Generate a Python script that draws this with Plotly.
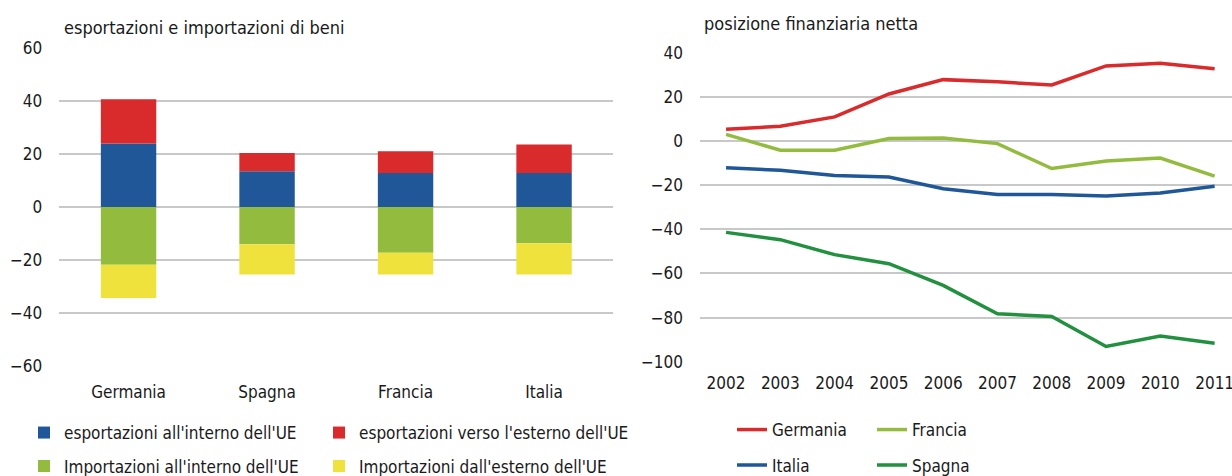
import plotly.graph_objects as go

# ---- data: left panel (esportazioni e importazioni di beni) ----
paesi = ["Germania", "Spagna", "Francia", "Italia"]
exp_interno_ue = [24.0, 13.5, 12.9, 12.9]
exp_esterno_ue = [16.7, 6.9, 8.2, 10.7]
imp_interno_ue = [-21.8, -14.1, -17.3, -13.7]
imp_esterno_ue = [-12.6, -11.4, -8.2, -11.8]

# ---- data: right panel (posizione finanziaria netta) ----
anni = [2002, 2003, 2004, 2005, 2006, 2007, 2008, 2009, 2010, 2011]
germania = [5.3, 6.7, 10.9, 21.3, 27.8, 26.8, 25.4, 34.0, 35.2, 32.7]
francia = [3.0, -4.2, -4.2, 1.1, 1.4, -1.2, -12.5, -9.1, -7.7, -15.9]
italia = [-12.1, -13.3, -15.6, -16.3, -21.6, -24.2, -24.2, -24.9, -23.6, -20.5]
spagna = [-41.4, -44.7, -51.5, -55.6, -65.4, -78.3, -79.5, -93.1, -88.4, -91.6]

FONT = "Liberation Sans Narrow, DejaVu Sans Condensed, Roboto, sans-serif"
TXT = "#1a1a1a"
GRID = "#c8c8c8"
W, H = 1232, 476

C_BLUE = "#1f5799"
C_RED = "#d92a2c"
C_LGREEN = "#93bb3e"
C_YELLOW = "#f0e23c"
C_DGREEN = "#21903f"

fig = go.Figure()

bar_series = [
    ("esportazioni all'interno dell'UE", exp_interno_ue, C_BLUE, "legend"),
    ("esportazioni verso l'esterno dell'UE", exp_esterno_ue, C_RED, "legend2"),
    ("Importazioni all'interno dell'UE", imp_interno_ue, C_LGREEN, "legend3"),
    ("Importazioni dall'esterno dell'UE", imp_esterno_ue, C_YELLOW, "legend4"),
]
for name, vals, col, lg in bar_series:
    fig.add_trace(go.Bar(
        x=paesi, y=vals, name=name, marker=dict(color=col, line=dict(width=0)),
        width=0.4, xaxis="x", yaxis="y", legend=lg,
    ))

line_series = [
    ("Germania", germania, C_RED, "legend5"),
    ("Francia", francia, C_LGREEN, "legend6"),
    ("Italia", italia, C_BLUE, "legend7"),
    ("Spagna", spagna, C_DGREEN, "legend8"),
]
for name, vals, col, lg in line_series:
    fig.add_trace(go.Scatter(
        x=anni, y=vals, name=name, mode="lines",
        line=dict(color=col, width=3.5), xaxis="x2", yaxis="y2", legend=lg,
    ))


def leg(x_px, y_px):
    return dict(
        orientation="h", x=x_px / W, y=1 - y_px / H, xanchor="left", yanchor="middle",
        traceorder="normal", font=dict(size=17, color=TXT),
        bgcolor="rgba(0,0,0,0)", borderwidth=0,
    )


fig.update_layout(
    width=W, height=H,
    margin=dict(l=0, r=0, t=0, b=0, autoexpand=False),
    paper_bgcolor="white", plot_bgcolor="white",
    font=dict(family=FONT, size=17, color=TXT),
    barmode="relative",
    hovermode=False,
    xaxis=dict(
        domain=[59.3 / W, 613.3 / W], type="category",
        showgrid=False, zeroline=False, showline=False, ticks="",
        ticklabelstandoff=14, tickfont=dict(size=17),
    ),
    yaxis=dict(
        domain=[1 - 365.7 / H, 1 - 48.3 / H], range=[-60, 60],
        tickvals=[-60, -40, -20, 0, 20, 40, 60],
        showgrid=True, gridcolor=GRID, gridwidth=1.5,
        zeroline=False, showline=False, ticks="",
        ticklabelstandoff=16, tickfont=dict(size=17),
    ),
    xaxis2=dict(
        domain=[700 / W, 1.0], range=[2001.52, 2011.32],
        tickvals=anni, ticktext=[str(a) for a in anni],
        showgrid=False, zeroline=False, showline=False, ticks="",
        ticklabelstandoff=9, tickfont=dict(size=17),
        ticklabeloverflow="allow",
        anchor="y2",
    ),
    yaxis2=dict(
        domain=[1 - 361.7 / H, 1 - 52.7 / H], range=[-100, 40],
        tickvals=[-100, -80, -60, -40, -20, 0, 20, 40],
        showgrid=True, gridcolor=GRID, gridwidth=1.5,
        zeroline=False, showline=False, ticks="",
        ticklabelstandoff=16, tickfont=dict(size=17),
        anchor="x2",
    ),
    legend=leg(24, 433),
    legend2=leg(319, 433),
    legend3=leg(24, 466.5),
    legend4=leg(319, 466.5),
    legend5=leg(732, 430),
    legend6=leg(872, 430),
    legend7=leg(732, 465.5),
    legend8=leg(872, 465.5),
    showlegend=True,
    annotations=[
        dict(text="esportazioni e importazioni di beni", x=62 / W, y=1 - 27 / H,
             xref="paper", yref="paper", xanchor="left", yanchor="middle",
             showarrow=False, font=dict(size=18, color=TXT)),
        dict(text="posizione finanziaria netta", x=702 / W, y=1 - 23 / H,
             xref="paper", yref="paper", xanchor="left", yanchor="middle",
             showarrow=False, font=dict(size=18, color=TXT)),
    ],
)

fig.write_html(
    "out.html",
    config={"displayModeBar": False},
    post_script="document.body.style.margin='0';document.body.style.padding='0';",
)
